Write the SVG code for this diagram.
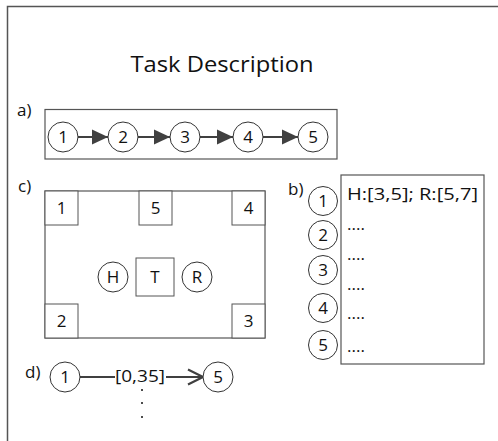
<svg xmlns="http://www.w3.org/2000/svg" width="498" height="441" viewBox="0 0 498 441">
<defs>
<marker id="tri" markerWidth="18" markerHeight="18" refX="16" refY="8" orient="auto" markerUnits="userSpaceOnUse">
<path d="M0,0.5 L16,8 L0,15.5 Z" fill="#404040"/>
</marker>
<marker id="chev" markerWidth="18" markerHeight="18" refX="16" refY="9" orient="auto" markerUnits="userSpaceOnUse">
<path d="M1,1.5 L16,9 L1,16.5" fill="none" stroke="#404040" stroke-width="2.2"/>
</marker>
</defs>
<style>
text{font-family:"Open Sans","Liberation Sans",sans-serif;fill:#111;}
.lbl{font-size:17px;}
.num{font-size:17px;text-anchor:middle;}
.c{fill:#fff;stroke:#333;stroke-width:1;}
.sq{fill:#fff;stroke:#555;stroke-width:1;}
.box{fill:#fff;stroke:#555;stroke-width:1.2;}
.edge{stroke:#404040;stroke-width:2;fill:none;}
</style>
<rect width="498" height="441" fill="#fff"/>
<path d="M7.5,460 L7.5,6.5 L520,6.5" fill="none" stroke="#555" stroke-width="1.5"/>
<text x="222" y="72" font-size="22.5" text-anchor="middle" textLength="183" lengthAdjust="spacingAndGlyphs">Task Description</text>

<!-- a) -->
<text class="lbl" x="17" y="116">a)</text>
<rect class="box" x="45" y="109.5" width="292" height="49.5"/>
<g id="connectors">
<line class="edge" x1="78" y1="137" x2="108" y2="137" marker-end="url(#tri)"/>
<line class="edge" x1="138" y1="137" x2="170" y2="137" marker-end="url(#tri)"/>
<line class="edge" x1="200" y1="137" x2="233" y2="137" marker-end="url(#tri)"/>
<line class="edge" x1="263" y1="137" x2="298" y2="137" marker-end="url(#tri)"/>
<line class="edge" x1="80" y1="377" x2="115" y2="377"/>
<line class="edge" x1="166" y1="377" x2="203" y2="377" marker-end="url(#chev)"/>
</g>
<g id="a1"><circle class="c" cx="63" cy="137" r="15"/><text class="num" x="63" y="143">1</text></g>
<g id="a2"><circle class="c" cx="123" cy="137" r="15"/><text class="num" x="123" y="143">2</text></g>
<g id="a3"><circle class="c" cx="185" cy="137" r="15"/><text class="num" x="185" y="143">3</text></g>
<g id="a4"><circle class="c" cx="248" cy="137" r="15"/><text class="num" x="248" y="143">4</text></g>
<g id="a5"><circle class="c" cx="313" cy="137" r="15"/><text class="num" x="313" y="143">5</text></g>

<!-- c) -->
<text class="lbl" x="18" y="192">c)</text>
<rect class="box" x="45" y="191" width="220" height="147"/>
<g id="c1"><rect class="sq" x="45" y="191" width="33" height="34"/><text class="num" x="61.5" y="214">1</text></g>
<g id="c5"><rect class="sq" x="139" y="191" width="33" height="34"/><text class="num" x="155.5" y="214">5</text></g>
<g id="c4"><rect class="sq" x="232" y="191" width="33" height="34"/><text class="num" x="248.5" y="214">4</text></g>
<g id="c2"><rect class="sq" x="45" y="304" width="33" height="34"/><text class="num" x="61.5" y="327">2</text></g>
<g id="c3"><rect class="sq" x="232" y="304" width="33" height="34"/><text class="num" x="248.5" y="327">3</text></g>
<g id="cT"><rect class="sq" x="136" y="258" width="38" height="38"/><text class="num" x="155" y="283">T</text></g>
<g id="cH"><circle class="c" cx="113" cy="277" r="15"/><text class="num" x="113" y="283">H</text></g>
<g id="cR"><circle class="c" cx="197" cy="277" r="15"/><text class="num" x="197" y="283">R</text></g>

<!-- b) -->
<text class="lbl" x="288" y="195">b)</text>
<rect class="box" x="341" y="175" width="143" height="189"/>
<g id="b1"><circle class="c" cx="323" cy="201" r="14.5"/><text class="num" x="323" y="207">1</text></g>
<g id="b2"><circle class="c" cx="323" cy="235" r="14.5"/><text class="num" x="323" y="241">2</text></g>
<g id="b3"><circle class="c" cx="323" cy="270" r="14.5"/><text class="num" x="323" y="276">3</text></g>
<g id="b4"><circle class="c" cx="323" cy="308" r="14.5"/><text class="num" x="323" y="314">4</text></g>
<g id="b5"><circle class="c" cx="323" cy="345" r="14.5"/><text class="num" x="323" y="351">5</text></g>
<text class="lbl" x="347" y="200" textLength="131" lengthAdjust="spacingAndGlyphs">H:[3,5]; R:[5,7]</text>
<text class="lbl" x="347" y="230">....</text>
<text class="lbl" x="347" y="260">....</text>
<text class="lbl" x="347" y="290">....</text>
<text class="lbl" x="347" y="319">....</text>
<text class="lbl" x="347" y="352">....</text>

<!-- d) -->
<text class="lbl" x="25" y="378">d)</text>
<g id="d1"><circle class="c" cx="65" cy="377" r="15"/><text class="num" x="65" y="383">1</text></g>
<g id="d5"><circle class="c" cx="218" cy="377" r="15"/><text class="num" x="218" y="383">5</text></g>
<text x="140" y="382" font-size="17" text-anchor="middle" textLength="50" lengthAdjust="spacingAndGlyphs">[0,35]</text>
<circle cx="142" cy="390" r="1" fill="#111"/>
<circle cx="142" cy="403" r="1" fill="#111"/>
<circle cx="142" cy="417" r="1" fill="#111"/>
</svg>
